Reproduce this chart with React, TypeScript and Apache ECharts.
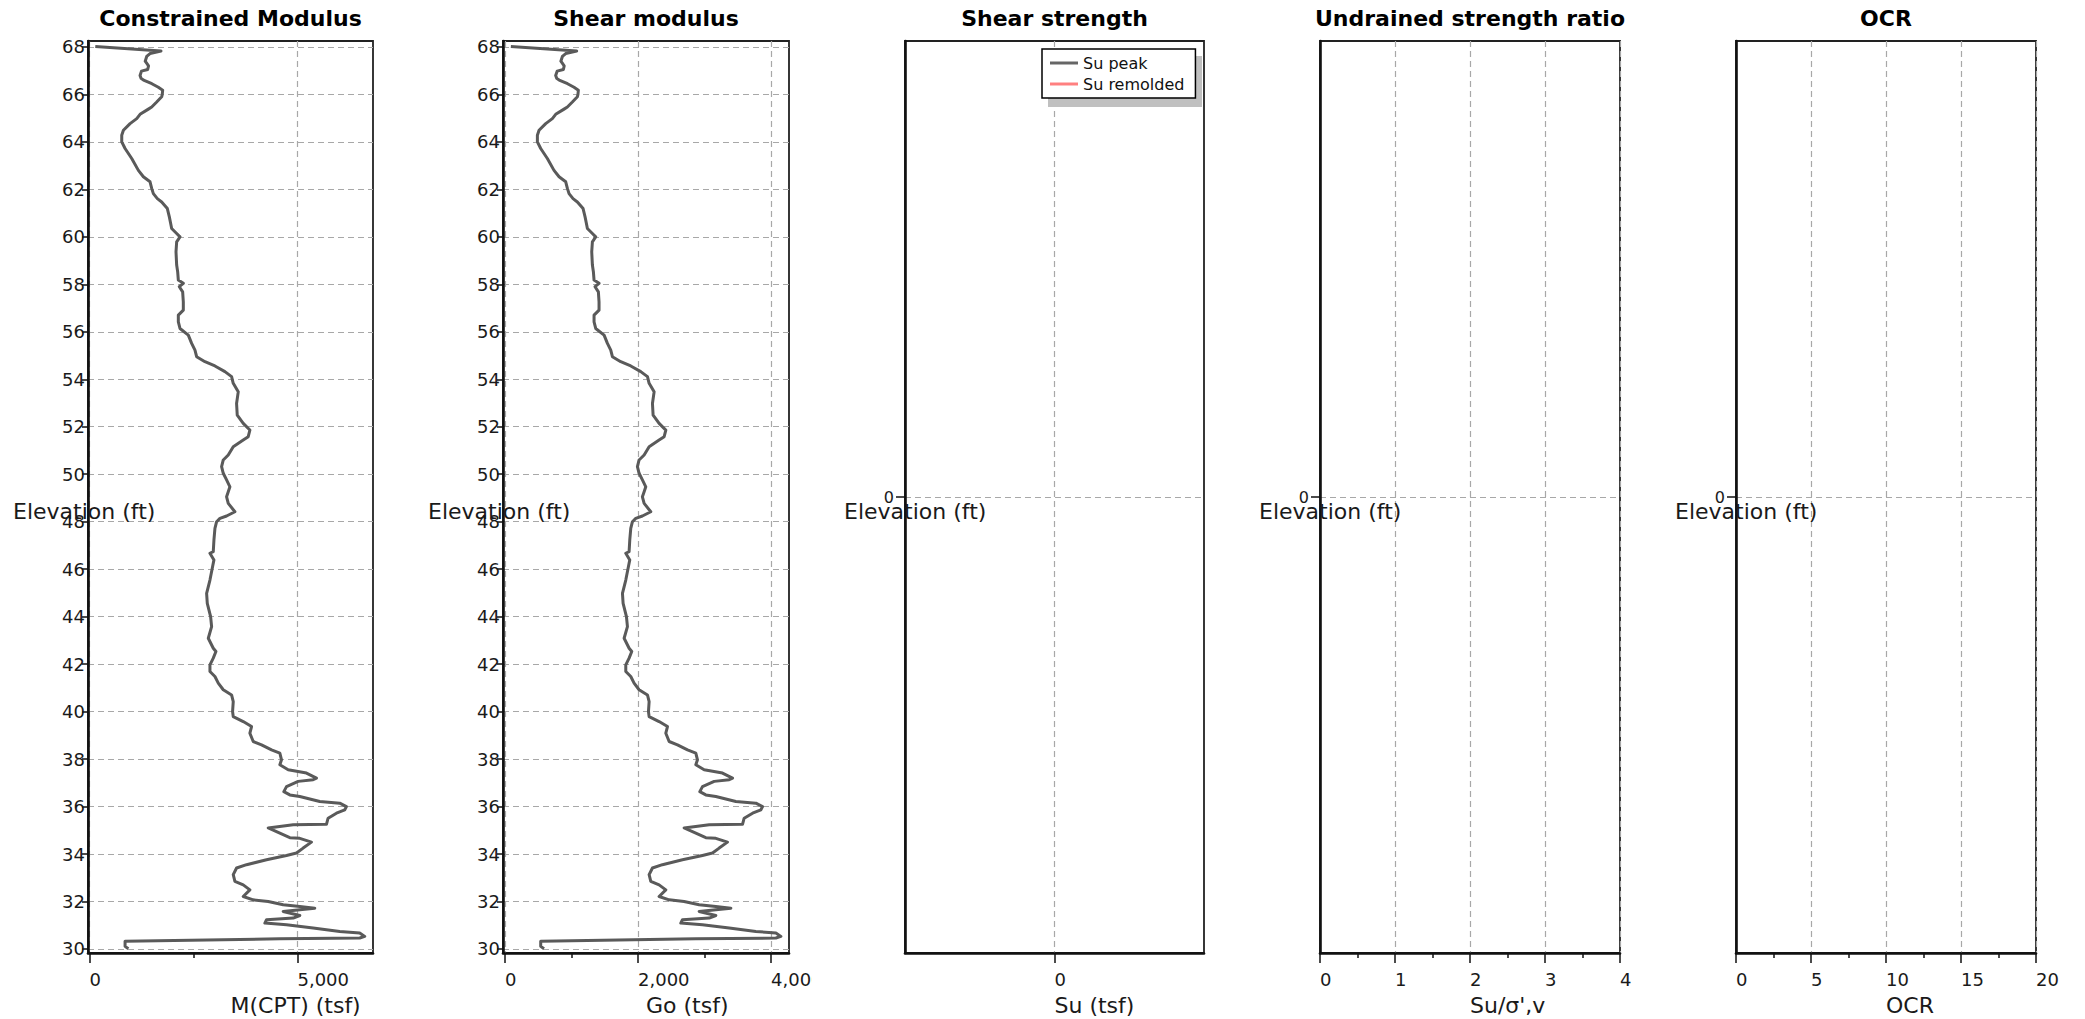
import React, { useEffect, useRef } from "react";
import * as echarts from "echarts";

// ---------- data ----------
const elevations = [
  68.02, 67.83, 67.72, 67.6, 67.4, 67.2, 67.05, 66.98, 66.8, 66.68, 66.6, 66.45, 66.3, 66.18, 66.0, 65.9,
  65.68, 65.47, 65.38, 65.16, 64.98, 64.77, 64.49, 64.28, 64.0, 63.72, 63.3, 62.8, 62.53, 62.32, 62.04,
  61.82, 61.61, 61.47, 61.19, 60.84, 60.56, 60.35, 60.14, 60.0, 59.79, 59.37, 58.81, 58.53, 58.18, 58.04,
  57.9, 57.68, 57.26, 56.91, 56.7, 56.42, 56.14, 55.86, 55.51,
  55.23, 54.95, 54.74, 54.56, 54.32, 54.11, 53.83, 53.47, 52.98, 52.49, 52.14, 51.86, 51.58, 51.44, 51.16,
  50.81, 50.6, 50.32, 50.04, 49.76, 49.47, 49.26, 49.05, 48.77, 48.42, 48.24, 48.14, 48.0, 47.72, 47.23,
  46.74, 46.67, 46.39, 46.11, 45.54, 44.98, 44.56, 44.0, 43.58, 43.09, 42.67,
  42.53, 42.25, 41.97, 41.69, 41.48, 41.2, 40.92, 40.7, 40.42, 40.0, 39.79, 39.58, 39.37, 39.09, 38.74,
  38.6, 38.39, 38.25, 37.97, 37.76, 37.55, 37.41, 37.2, 37.13, 37.06, 36.84, 36.63, 36.49, 36.42, 36.21,
  36.14, 36.0, 35.86, 35.72, 35.51, 35.25, 35.23, 35.1, 34.88, 34.69, 34.66, 34.5, 34.25, 34.04, 33.94,
  33.76, 33.55, 33.41, 33.13, 32.85, 32.7, 32.49, 32.21, 32.07, 32.0, 31.86, 31.79, 31.72, 31.65, 31.58,
  31.41, 31.3, 31.23, 31.09, 31.02, 30.88, 30.74, 30.67, 30.53, 30.46, 30.43, 30.32, 30.11, 30.01,
];

const constrainedModulus = [
  140, 1720, 1456, 1376, 1340, 1420, 1400, 1250, 1216, 1240, 1300, 1500, 1656, 1760, 1750, 1736,
  1616, 1496, 1416, 1216, 1136, 976, 816, 776, 776, 856, 1016, 1176, 1296, 1456, 1496,
  1536, 1632, 1736, 1872, 1920, 1952, 1976, 2096, 2176, 2096, 2080, 2096, 2120, 2136, 2256,
  2160, 2240, 2256, 2256, 2136, 2136, 2176, 2376, 2456,
  2536, 2576, 2776, 3016, 3256, 3416, 3456, 3576, 3536, 3552, 3696, 3856, 3816, 3696, 3456,
  3336, 3216, 3176, 3216, 3296, 3376, 3336, 3296, 3336, 3496, 3296, 3136, 3056, 3016, 2992,
  2976, 2896, 2992, 2960, 2896, 2816, 2832, 2912, 2936, 2856, 2976,
  3040, 2976, 2896, 2896, 3016, 3096, 3216, 3416, 3456, 3440, 3456, 3696, 3896, 3856, 3936,
  4136, 4376, 4576, 4616, 4576, 4776, 5216, 5456, 5376, 5016, 4736, 4672, 4816, 5056, 5536,
  6016, 6176, 6136, 5936, 5736, 5696, 4896, 4296, 4576, 4816, 5056, 5336, 5136, 4976, 4736,
  4256, 3776, 3536, 3456, 3496, 3696, 3856, 3696, 3936, 4296, 4656, 5056, 5416, 5056, 4656,
  5056, 4896, 4256, 4216, 4736, 5376, 6016, 6496, 6616, 6496, 4576, 856, 856, 936,
];

const shearModulus = [
  88, 1078, 913, 863, 840, 890, 878, 784, 762, 777, 815, 940, 1038, 1103, 1097, 1088,
  1013, 938, 888, 762, 712, 612, 512, 487, 487, 537, 637, 737, 813, 913, 938,
  963, 1023, 1088, 1174, 1204, 1224, 1239, 1314, 1364, 1314, 1304, 1314, 1329, 1339, 1414,
  1354, 1404, 1414, 1414, 1339, 1339, 1364, 1490, 1540,
  1590, 1615, 1740, 1891, 2041, 2142, 2167, 2242, 2217, 2227, 2317, 2418, 2393, 2317, 2167,
  2092, 2016, 1991, 2016, 2066, 2117, 2092, 2066, 2092, 2192, 2066, 1966, 1916, 1891, 1876,
  1866, 1816, 1876, 1856, 1816, 1766, 1776, 1826, 1841, 1791, 1866,
  1906, 1866, 1816, 1816, 1891, 1941, 2016, 2142, 2167, 2157, 2167, 2317, 2443, 2418, 2468,
  2593, 2744, 2869, 2894, 2869, 2994, 3270, 3421, 3371, 3145, 2969, 2929, 3019, 3170, 3471,
  3772, 3872, 3847, 3722, 3596, 3571, 3070, 2693, 2869, 3019, 3170, 3345, 3220, 3120, 2969,
  2668, 2367, 2217, 2167, 2192, 2317, 2418, 2317, 2468, 2693, 2919, 3170, 3396, 3170, 2919,
  3170, 3070, 2668, 2643, 2969, 3371, 3772, 4073, 4148, 4073, 2869, 537, 537, 587,
];

const elevationTicks = [30, 32, 34, 36, 38, 40, 42, 44, 46, 48, 50, 52, 54, 56, 58, 60, 62, 64, 66, 68];
const zeroTick = [0];
const mTicks = [0, 5000];
const mMinorTicks = [2500];
const goTicks = [0, 2000, 4000];
const goMinorTicks = [1000, 3000];

const panelTitles = ["Constrained Modulus", "Shear modulus", "Shear strength", "Undrained strength ratio", "OCR"];
const xAxisNames = ["M(CPT) (tsf)", "Go (tsf)", "Su (tsf)", "Su/σ',v", "OCR"];
const yAxisName = "Elevation (ft)";
const legendNames = ["Su peak", "Su remolded"];

// ---------- layout ----------
const W = 2085;
const H = 1019;
const TOP = 41;
const BOTTOM = 953;
const FONT = '"DejaVu Sans", Verdana, sans-serif';
const panels = [
  { left: 88, right: 373, nameLeft: 13 },
  { left: 503, right: 789, nameLeft: 428 },
  { left: 905, right: 1204, nameLeft: 844 },
  { left: 1320, right: 1620, nameLeft: 1259 },
  { left: 1736, right: 2036, nameLeft: 1675 },
];

const LINE_COLOR = "#5a5a5a";
const REMOLD_COLOR = "#ff8080";

function fmt(v: number) {
  return Math.round(v).toLocaleString("en-US");
}

export default function App() {
  const ref = useRef<HTMLDivElement>(null);

  useEffect(() => {
    if (!ref.current) return;
    const chart = echarts.init(ref.current, undefined, { renderer: "svg" });

    const grids = panels.map((p) => ({
      left: p.left,
      top: TOP,
      width: p.right - p.left,
      height: BOTTOM - TOP,
      show: true,
      borderColor: "#222",
      borderWidth: 1.8,
      backgroundColor: "transparent",
      containLabel: false,
      outerBoundsMode: "none",
    }));

    const splitLine = {
      show: true,
      lineStyle: { type: [6, 4], color: "#a8a8a8", width: 1.2 },
    };
    const axisLine = { show: true, onZero: false, lineStyle: { color: "#111", width: 2.6 } };
    const labelStyle = { fontFamily: FONT, color: "#1a1a1a" };
    const tickStyle = { color: "#111", width: 1.5 };

    const xName = (i: number) => ({
      name: xAxisNames[i],
      nameLocation: "middle",
      nameGap: 52,
      nameTextStyle: { ...labelStyle, fontSize: 22, align: "left", verticalAlign: "middle" },
    });
    const xLabel = { formatter: fmt, margin: 17, fontSize: 18, align: "left", ...labelStyle };

    const xAxes: any[] = [
      {
        type: "value", gridIndex: 0, position: "bottom", min: -35, max: 6815,
        axisLine, splitLine,
        axisTick: { show: true, length: 10, customValues: mTicks, lineStyle: tickStyle },
        axisLabel: { ...xLabel, customValues: mTicks },
        ...xName(0),
      },
      {
        type: "value", gridIndex: 1, position: "bottom", min: -30, max: 4270,
        axisLine, splitLine,
        axisTick: { show: true, length: 10, customValues: goTicks, lineStyle: tickStyle },
        axisLabel: { ...xLabel, customValues: goTicks },
        ...xName(1),
      },
      {
        type: "value", gridIndex: 2, position: "bottom", min: -1, max: 1,
        axisLine, splitLine,
        axisTick: { show: true, length: 10, customValues: zeroTick, lineStyle: tickStyle },
        axisLabel: { ...xLabel, customValues: zeroTick },
        ...xName(2),
      },
      {
        type: "value", gridIndex: 3, position: "bottom", min: 0, max: 4, interval: 1,
        axisLine, splitLine,
        axisTick: { show: true, length: 10, lineStyle: tickStyle },
        minorTick: { show: true, splitNumber: 2, length: 5, lineStyle: tickStyle },
        axisLabel: xLabel,
        ...xName(3),
      },
      {
        type: "value", gridIndex: 4, position: "bottom", min: 0, max: 20, interval: 5,
        axisLine, splitLine,
        axisTick: { show: true, length: 10, lineStyle: tickStyle },
        minorTick: { show: true, splitNumber: 2, length: 5, lineStyle: tickStyle },
        axisLabel: xLabel,
        ...xName(4),
      },
      {
        type: "value", gridIndex: 0, position: "bottom", min: -35, max: 6815,
        axisLine: { show: false }, splitLine: { show: false }, axisLabel: { show: false },
        axisTick: { show: true, length: 5, customValues: mMinorTicks, lineStyle: tickStyle },
      },
      {
        type: "value", gridIndex: 1, position: "bottom", min: -30, max: 4270,
        axisLine: { show: false }, splitLine: { show: false }, axisLabel: { show: false },
        axisTick: { show: true, length: 5, customValues: goMinorTicks, lineStyle: tickStyle },
      },
    ];

    const yAxes: any[] = panels.map((_, i) => {
      const big = i < 2;
      return {
        type: "value",
        gridIndex: i,
        position: "left",
        min: big ? 29.83 : -1,
        max: big ? 68.25 : 1,
        axisLine,
        splitLine,
        axisTick: {
          show: true,
          length: big ? 6 : 9,
          customValues: big ? elevationTicks : zeroTick,
          lineStyle: tickStyle,
        },
        axisLabel: {
          customValues: big ? elevationTicks : zeroTick,
          formatter: (v: number) => String(v),
          margin: big ? 3 : 11,
          fontSize: big ? 18 : 16,
          ...labelStyle,
        },
      };
    });

    const lineSeries = (name: string, values: number[], idx: number) => ({
      type: "line",
      name,
      xAxisIndex: idx,
      yAxisIndex: idx,
      data: elevations.map((e, k) => [values[k], e]),
      showSymbol: false,
      symbol: "none",
      color: LINE_COLOR,
      lineStyle: { color: LINE_COLOR, width: 3, join: "round" },
      z: 5,
    });

    const graphics: any[] = [];
    panels.forEach((p, i) => {
      graphics.push({
        type: "text",
        x: (p.left + p.right) / 2,
        y: 18,
        style: {
          text: panelTitles[i],
          font: `bold 22px ${FONT}`,
          fill: "#000",
          align: "center",
          verticalAlign: "middle",
        },
      });
      graphics.push({
        type: "text",
        x: p.nameLeft,
        y: 511,
        z: 20,
        style: {
          text: yAxisName,
          font: `22px ${FONT}`,
          fill: "#1a1a1a",
          align: "left",
          verticalAlign: "middle",
        },
      });
    });
    // legend drop shadow
    graphics.push({
      type: "rect",
      shape: { x: 1048, y: 56, width: 154, height: 51 },
      style: { fill: "#c0c0c0" },
      z: 3,
    });
    // clipped tail of the "4,000" label
    graphics.push({
      type: "rect",
      shape: { x: 812, y: 962, width: 22, height: 30 },
      style: { fill: "#fff" },
      z: 100,
    });

    chart.setOption({
      animation: false,
      backgroundColor: "#fff",
      textStyle: { fontFamily: FONT },
      grid: grids,
      xAxis: xAxes,
      yAxis: yAxes,
      legend: {
        data: legendNames,
        orient: "vertical",
        left: 1042,
        top: 49,
        padding: [6, 11, 6, 8],
        itemGap: 5,
        itemWidth: 28,
        itemHeight: 3,
        icon: "rect",
        backgroundColor: "#fff",
        borderColor: "#000",
        borderWidth: 1.5,
        borderRadius: 0,
        z: 10,
        textStyle: { fontFamily: FONT, fontSize: 16, color: "#111" },
        selectedMode: false,
      },
      series: [
        lineSeries("M(CPT)", constrainedModulus, 0),
        lineSeries("Go", shearModulus, 1),
        {
          type: "line", name: legendNames[0], xAxisIndex: 2, yAxisIndex: 2, data: [],
          color: "#666", itemStyle: { color: "#666" }, lineStyle: { color: "#666", width: 3 },
        },
        {
          type: "line", name: legendNames[1], xAxisIndex: 2, yAxisIndex: 2, data: [],
          color: REMOLD_COLOR, itemStyle: { color: REMOLD_COLOR }, lineStyle: { color: REMOLD_COLOR, width: 3 },
        },
      ],
      graphic: graphics,
    });

    return () => chart.dispose();
  }, []);

  return (
    <div
      ref={ref}
      style={{ position: "fixed", left: 0, top: 0, width: W, height: H, background: "#fff" }}
    />
  );
}
